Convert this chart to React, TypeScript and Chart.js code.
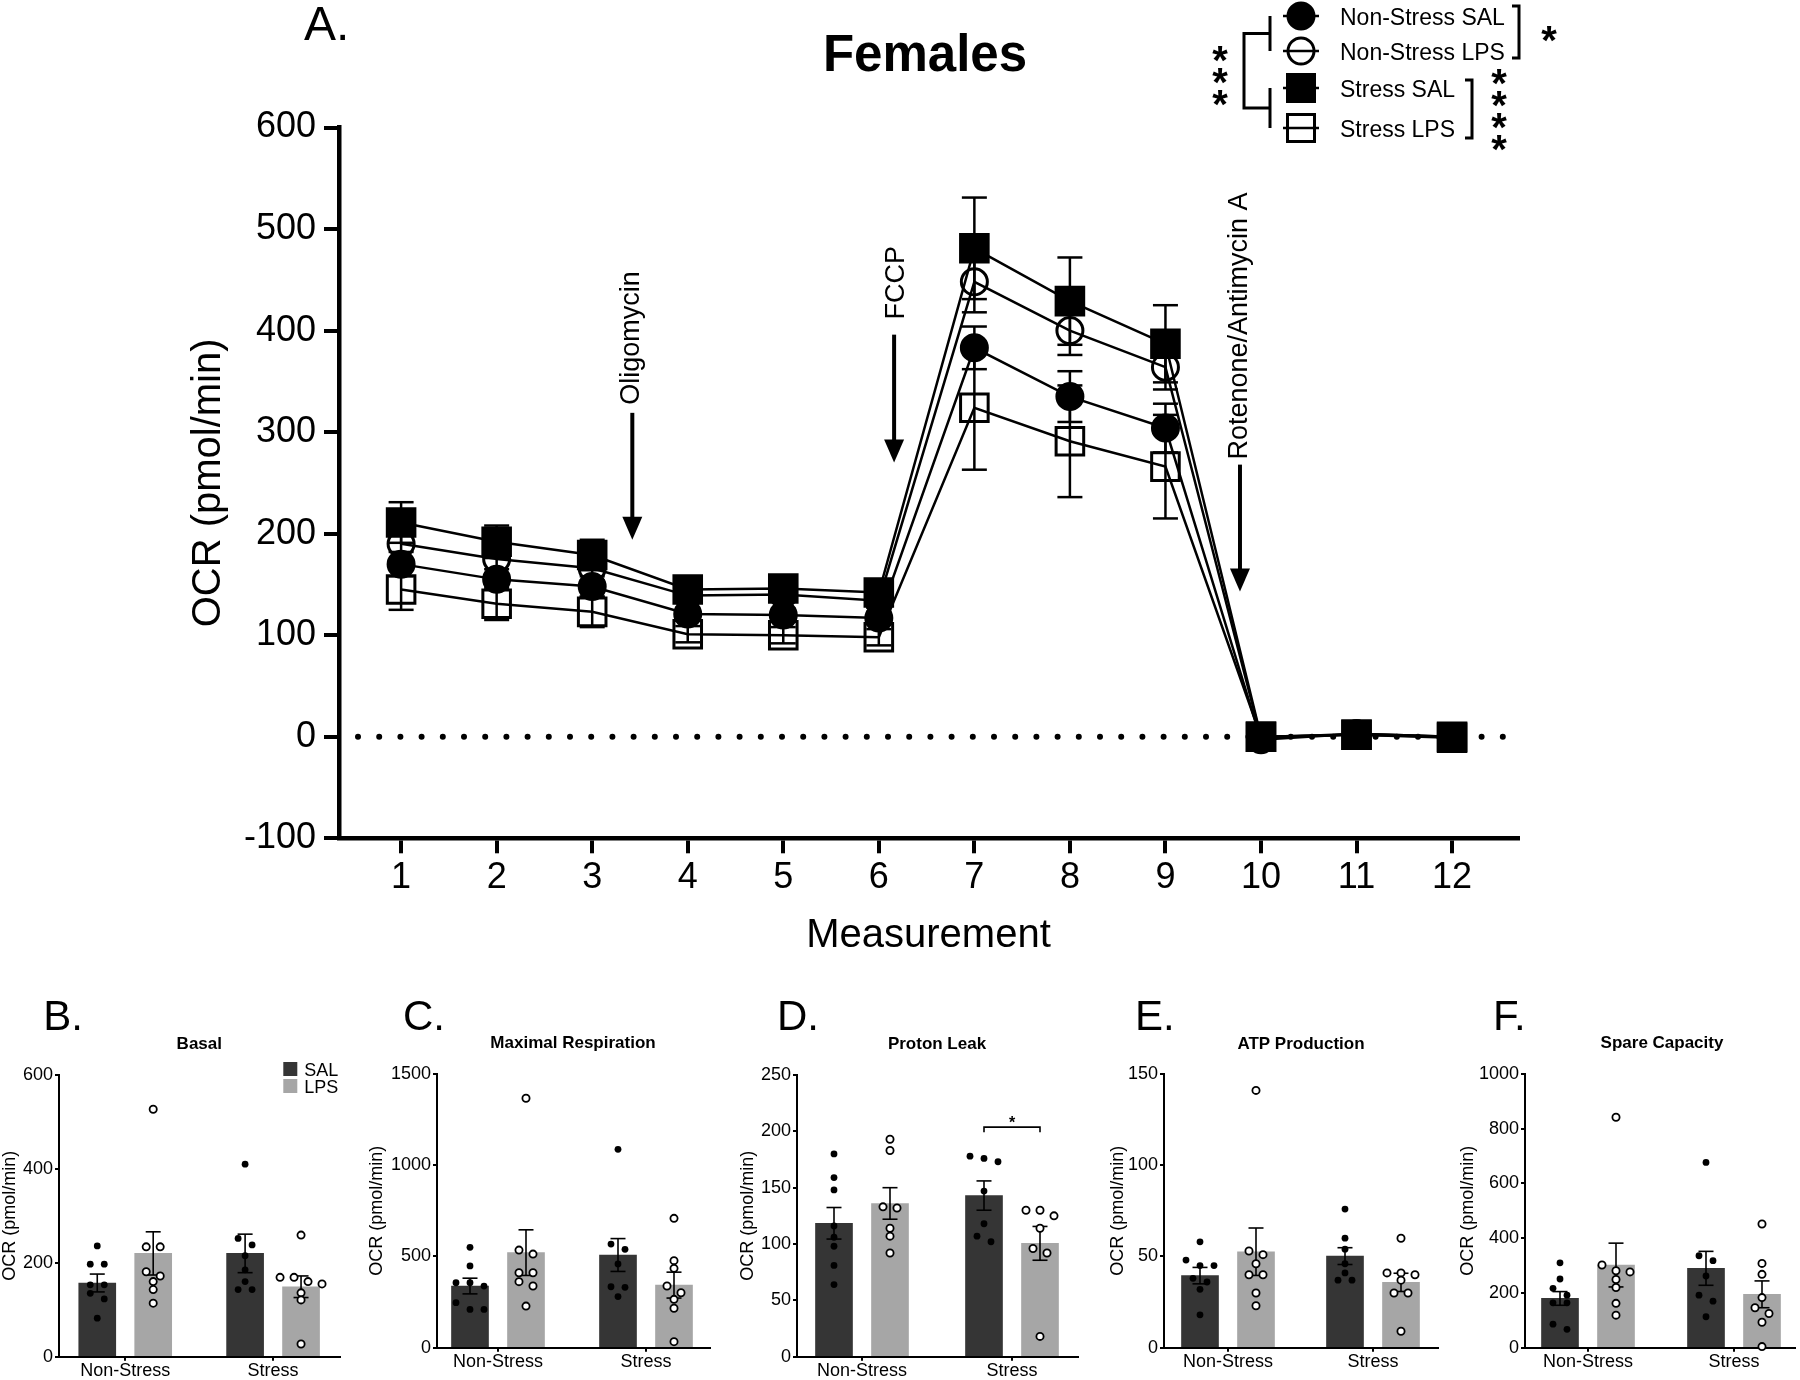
import React, { useEffect, useRef } from "react";
import { Chart, registerables } from "chart.js";

Chart.register(...registerables);

const FONT = "'Liberation Sans', Arial, Helvetica, sans-serif";
Chart.defaults.font.family = FONT;
Chart.defaults.color = "#000";

// ---------------- Panel A data ----------------
const measurements = [1, 2, 3, 4, 5, 6, 7, 8, 9, 10, 11, 12];
const nonStressSal = [170, 155, 148, 121, 120, 117, 383, 335, 304, -3, 3, 0];
const nonStressSalSem = [12, 10, 10, 6, 6, 6, 21, 25, 24, 2, 2, 2];
const nonStressLps = [190, 175, 166, 139, 140, 134, 448, 400, 364, -1, 3, 0];
const nonStressLpsSem = [15, 14, 12, 7, 7, 7, 30, 24, 22, 2, 2, 2];
const stressSal = [211, 192, 179, 145, 146, 142, 481, 429, 387, 0, 2, 0];
const stressSalSem = [20, 16, 15, 8, 8, 8, 50, 43, 38, 2, 2, 2];
const stressLps = [145, 131, 123, 101, 100, 98, 324, 291, 266, 0, 2, -1];
const stressLpsSem = [20, 16, 15, 8, 8, 8, 61, 55, 51, 2, 2, 2];
const seriesLabels = ["Non-Stress SAL", "Non-Stress LPS", "Stress SAL", "Stress LPS"];

const injectionLabels = ["Oligomycin", "FCCP", "Rotenone/Antimycin A"];
const injectionX = [3.42, 6.16, 9.78];
const injectionTextStart = [327, 411, 273];
const injectionArrowFrom = [319, 396, 268];
const injectionArrowTo = [194, 270, 143];

// ---------------- Panels B-F data ----------------
const groupLabels = ["Non-Stress", "Stress"];
const treatmentLabels = ["SAL", "LPS"];

const basalNsSal = [236, 197, 197, 153, 153, 135, 123, 82];
const basalNsLps = [527, 234, 234, 181, 172, 160, 143, 114];
const basalSSal = [410, 252, 238, 215, 185, 160, 143, 143];
const basalSLps = [259, 169, 169, 160, 155, 136, 121, 27];
const basalMeans = [157, 220, 220, 149];
const basalSem = [19, 46, 41, 23];

const maxNsSal = [550, 448, 356, 356, 338, 247, 210, 210];
const maxNsLps = [1367, 535, 513, 411, 411, 362, 338, 228];
const maxSSal = [1087, 568, 539, 459, 334, 331, 280];
const maxSLps = [709, 477, 435, 338, 301, 265, 216, 33];
const maxMeans = [338, 521, 508, 343];
const maxSem = [43, 125, 90, 71];

const leakNsSal = [180, 159, 148, 116, 106, 98, 81, 64];
const leakNsLps = [193, 183, 133, 132, 114, 107, 92];
const leakSSal = [173, 178, 176, 147, 118, 107, 102];
const leakSLps = [130, 125, 130, 114, 92, 96, 18];
const leakMeans = [118.4, 136, 143, 100.6];
const leakSem = [14, 14, 13, 15];

const atpNsSal = [58, 48, 45, 45, 38, 36, 32, 18];
const atpNsLps = [141, 53, 51, 46, 40, 40, 30, 23];
const atpSSal = [76, 60, 54, 46, 41, 37, 37];
const atpSLps = [60, 41, 41, 40, 37, 30, 30, 9];
const atpMeans = [39.5, 52.6, 50.2, 35.8];
const atpSem = [4.5, 13, 4.6, 5];

const spareNsSal = [310, 251, 217, 192, 164, 164, 86, 67];
const spareNsLps = [842, 302, 281, 277, 249, 220, 162, 119];
const spareSSal = [677, 336, 318, 262, 192, 170, 113];
const spareSLps = [452, 308, 268, 183, 146, 125, 93, 4];
const spareMeans = [180, 302, 290, 195];
const spareSem = [25, 80, 62, 49];

const panelLetters = ["B.", "C.", "D.", "E.", "F."];
const panelTitles = ["Basal", "Maximal Respiration", "Proton Leak", "ATP Production", "Spare Capacity"];
const panelYMax = [600, 1500, 250, 150, 1000];
const panelYStep = [200, 500, 50, 50, 200];
const panelPoints = [
  [basalNsSal, basalNsLps, basalSSal, basalSLps],
  [maxNsSal, maxNsLps, maxSSal, maxSLps],
  [leakNsSal, leakNsLps, leakSSal, leakSLps],
  [atpNsSal, atpNsLps, atpSSal, atpSLps],
  [spareNsSal, spareNsLps, spareSSal, spareSLps],
];
const panelMeans = [basalMeans, maxMeans, leakMeans, atpMeans, spareMeans];
const panelSems = [basalSem, maxSem, leakSem, atpSem, spareSem];

// layout (pixels on the page)
const panelGeom = [
  { left: 58.7, right: 340, c0: 125, c1: 273, top: 1075, bottom: 1356.7, letterX: 43, titleX: 199, yTitleOff: 48.7 },
  { left: 437, right: 710, c0: 498, c1: 646, top: 1074, bottom: 1347.7, letterX: 403, titleX: 573, yTitleOff: 60 },
  { left: 797, right: 1078, c0: 862, c1: 1012, top: 1075, bottom: 1356.7, letterX: 777, titleX: 937, yTitleOff: 49 },
  { left: 1164, right: 1438, c0: 1228, c1: 1373, top: 1074, bottom: 1347.7, letterX: 1135, titleX: 1301, yTitleOff: 46 },
  { left: 1525, right: 1795, c0: 1588, c1: 1734, top: 1074, bottom: 1347.7, letterX: 1493, titleX: 1662, yTitleOff: 57 },
];

// ---------------- helpers ----------------
function textAt(ctx: CanvasRenderingContext2D, text: string, x: number, cy: number, font: string, align: CanvasTextAlign = "left") {
  ctx.save();
  ctx.font = font;
  ctx.textAlign = align;
  ctx.textBaseline = "alphabetic";
  ctx.fillStyle = "#000";
  const m = ctx.measureText(text);
  const base = cy + (m.actualBoundingBoxAscent - m.actualBoundingBoxDescent) / 2;
  ctx.fillText(text, x, base);
  ctx.restore();
}

function line(ctx: CanvasRenderingContext2D, pts: number[][], w: number) {
  ctx.save();
  ctx.strokeStyle = "#000";
  ctx.lineWidth = w;
  ctx.lineCap = "butt";
  ctx.lineJoin = "miter";
  ctx.beginPath();
  pts.forEach((p, i) => (i === 0 ? ctx.moveTo(p[0], p[1]) : ctx.lineTo(p[0], p[1])));
  ctx.stroke();
  ctx.restore();
}

// ---------------- Panel A ----------------
const MAIN_W = 1800;
const MAIN_H = 960;
const A_LEFT = 339;
const A_RIGHT = 1518;
const A_TOP = 127.5;
const A_BOTTOM = 838.3;

function MainChart() {
  const ref = useRef<HTMLCanvasElement>(null);
  useEffect(() => {
    const canvas = ref.current!;
    const values = [nonStressSal, nonStressLps, stressSal, stressLps];
    const sems = [nonStressSalSem, nonStressLpsSem, stressSalSem, stressLpsSem];
    const shapes = ["circle", "circle", "rect", "rect"];
    const filled = [true, false, true, false];
    const orders = [2, 1, 0, 3];

    const datasets = values.map((vals, i) => ({
      type: "line" as const,
      label: seriesLabels[i],
      data: measurements.map((m, j) => ({ x: m, y: vals[j] })),
      sem: sems[i],
      borderColor: "#000",
      borderWidth: 2.5,
      tension: 0,
      fill: false,
      pointStyle: shapes[i],
      pointRadius: shapes[i] === "rect" ? 19.5 : 13,
      pointBorderWidth: 3,
      pointBorderColor: "#000",
      pointBackgroundColor: filled[i] ? "#000" : "rgba(0,0,0,0)",
      order: orders[i],
      clip: false as any,
    }));

    const backPlugin = {
      id: "back",
      beforeDatasetsDraw(chart: any) {
        const ctx: CanvasRenderingContext2D = chart.ctx;
        const xs = chart.scales.x;
        const ys = chart.scales.y;
        const y0 = ys.getPixelForValue(0);
        // dotted zero line
        ctx.save();
        ctx.strokeStyle = "#000";
        ctx.lineWidth = 6;
        ctx.lineCap = "round";
        ctx.setLineDash([0, 21.2]);
        ctx.beginPath();
        ctx.moveTo(chart.chartArea.left + 19, y0);
        ctx.lineTo(chart.chartArea.right, y0);
        ctx.stroke();
        ctx.restore();
        // error bars
        chart.data.datasets.forEach((ds: any) => {
          ds.data.forEach((pt: any, j: number) => {
            const s = ds.sem[j];
            const x = xs.getPixelForValue(pt.x);
            const yt = ys.getPixelForValue(pt.y + s);
            const yb = ys.getPixelForValue(pt.y - s);
            line(ctx, [[x, yt], [x, yb]], 2.5);
            line(ctx, [[x - 12.5, yt], [x + 12.5, yt]], 2.5);
            line(ctx, [[x - 12.5, yb], [x + 12.5, yb]], 2.5);
          });
        });
      },
    };

    const frontPlugin = {
      id: "front",
      afterDraw(chart: any) {
        const ctx: CanvasRenderingContext2D = chart.ctx;
        const xs = chart.scales.x;
        const ys = chart.scales.y;
        // Panel letter and title
        textAt(ctx, "A.", 304, 23, `48px ${FONT}`, "left");
        textAt(ctx, "Females", 925, 52, `bold 51px ${FONT}`, "center");

        // injection arrows + labels
        injectionLabels.forEach((lab, i) => {
          const x = xs.getPixelForValue(injectionX[i]);
          const yStart = ys.getPixelForValue(injectionTextStart[i]);
          const yFrom = ys.getPixelForValue(injectionArrowFrom[i]);
          const yTip = ys.getPixelForValue(injectionArrowTo[i]);
          const headL = 23;
          const headW = 10;
          line(ctx, [[x, yFrom], [x, yTip - headL + 2]], 4);
          ctx.save();
          ctx.fillStyle = "#000";
          ctx.beginPath();
          ctx.moveTo(x - headW, yTip - headL);
          ctx.lineTo(x + headW, yTip - headL);
          ctx.lineTo(x, yTip);
          ctx.closePath();
          ctx.fill();
          ctx.restore();
          ctx.save();
          ctx.translate(x, yStart);
          ctx.rotate(-Math.PI / 2);
          ctx.font = `27px ${FONT}`;
          ctx.textAlign = "left";
          ctx.textBaseline = "alphabetic";
          ctx.fillStyle = "#000";
          const m = ctx.measureText(lab);
          ctx.fillText(lab, 0, (m.actualBoundingBoxAscent - m.actualBoundingBoxDescent) / 2);
          ctx.restore();
        });

        // legend
        const ly = [16, 51, 88, 128];
        const mx = 1301;
        const shapes = ["circle", "circle", "rect", "rect"];
        const filled = [true, false, true, false];
        ly.forEach((y, i) => {
          line(ctx, [[1283, y], [1319, y]], 2.5);
          ctx.save();
          ctx.strokeStyle = "#000";
          ctx.fillStyle = "#000";
          ctx.lineWidth = 3;
          ctx.beginPath();
          if (shapes[i] === "circle") ctx.arc(mx, y, 13, 0, Math.PI * 2);
          else ctx.rect(mx - 13.5, y - 13.5, 27, 27);
          if (filled[i]) ctx.fill();
          ctx.stroke();
          ctx.restore();
          textAt(ctx, seriesLabels[i], 1340, y, `23px ${FONT}`, "left");
        });
        // left brackets
        line(ctx, [[1270, ly[0]], [1270, ly[1]]], 3);
        line(ctx, [[1270, ly[2]], [1270, ly[3]]], 3);
        const m1 = (ly[0] + ly[1]) / 2;
        const m2 = (ly[2] + ly[3]) / 2;
        line(ctx, [[1270, m1], [1244, m1], [1244, m2], [1270, m2]], 3);
        ["*", "*", "*"].forEach((s, i) => textAt(ctx, s, 1220, 54 + i * 22, `bold 40px ${FONT}`, "center"));
        // right brackets
        line(ctx, [[1512, 6], [1519, 6], [1519, 58], [1512, 58]], 3);
        textAt(ctx, "*", 1549, 34, `bold 40px ${FONT}`, "center");
        line(ctx, [[1465, 80], [1472, 80], [1472, 138], [1465, 138]], 3);
        ["*", "*", "*", "*"].forEach((s, i) => textAt(ctx, s, 1499, 77 + i * 22, `bold 40px ${FONT}`, "center"));
      },
    };

    const gridOpts = { drawOnChartArea: false, drawTicks: true, tickLength: 15, lineWidth: 4, color: "#000" };
    const borderOpts = { display: true, width: 4.5, color: "#000" };

    const chart = new Chart(canvas, {
      type: "line",
      data: { datasets: datasets as any },
      options: {
        responsive: false,
        animation: false,
        devicePixelRatio: 1,
        layout: { padding: { left: 0, top: A_TOP, right: MAIN_W - A_RIGHT, bottom: 0 } },
        plugins: { legend: { display: false }, tooltip: { enabled: false }, title: { display: false } },
        scales: {
          x: {
            type: "linear",
            min: 0.35,
            max: 12.69,
            afterBuildTicks: (s: any) => {
              s.ticks = measurements.map((v) => ({ value: v }));
            },
            afterFit: (s: any) => {
              s.height = MAIN_H - A_BOTTOM;
            },
            grid: gridOpts,
            border: borderOpts,
            ticks: { font: { size: 36 }, color: "#000", padding: 3, maxRotation: 0, autoSkip: false },
            title: { display: true, text: "Measurement", font: { size: 40 }, color: "#000", padding: { top: 0, bottom: 0 } },
          },
          y: {
            type: "linear",
            min: -100,
            max: 600,
            afterFit: (s: any) => {
              s.width = A_LEFT;
            },
            grid: gridOpts,
            border: borderOpts,
            ticks: { stepSize: 100, font: { size: 36 }, color: "#000", padding: 8 },
            title: { display: true, text: "OCR (pmol/min)", font: { size: 40 }, color: "#000", padding: { top: 185, bottom: 0 } },
          },
        },
      } as any,
      plugins: [backPlugin, frontPlugin],
    });
    return () => chart.destroy();
  }, []);
  return (
    <canvas
      ref={ref}
      width={MAIN_W}
      height={MAIN_H}
      style={{ position: "absolute", left: 0, top: 0, width: MAIN_W, height: MAIN_H }}
    />
  );
}

// ---------------- Panels B-F ----------------
const PANEL_TOP = 980;
const PANEL_H = 400;
const YW = 72;
const PADR = 8;

function swarm(vals: number[], pxPerY: number, step: number): number[] {
  // group near-equal values into rows, spread rows symmetrically (pixel offsets)
  const idx = vals.map((v, i) => i).sort((a, b) => vals[b] - vals[a]);
  const offs = new Array(vals.length).fill(0);
  let row: number[] = [];
  const flush = () => {
    row.forEach((k, r) => (offs[k] = (r - (row.length - 1) / 2) * step));
    row = [];
  };
  idx.forEach((k) => {
    if (row.length && (vals[row[0]] - vals[k]) * pxPerY >= 7) flush();
    row.push(k);
  });
  flush();
  return offs;
}

function BarPanel({ idx }: { idx: number }) {
  const ref = useRef<HTMLCanvasElement>(null);
  const g = panelGeom[idx];
  const cLeft = g.left - YW;
  const cWidth = YW + (g.right - g.left) + PADR;
  useEffect(() => {
    const canvas = ref.current!;
    const ppu = g.c1 - g.c0;
    const xmin = -(g.c0 - g.left) / ppu;
    const xmax = 1 + (g.right - g.c1) / ppu;
    const yMax = panelYMax[idx];
    const pxPerY = (g.bottom - g.top) / yMax;
    const off = 28 / ppu;
    const means = panelMeans[idx];
    const sems = panelSems[idx];
    const pts = panelPoints[idx];
    // order: NS SAL, NS LPS, S SAL, S LPS
    const centers = [0 - off, 0 + off, 1 - off, 1 + off];
    const isSal = [true, false, true, false];

    const barSal = {
      type: "bar" as const,
      label: treatmentLabels[0],
      data: [
        { x: centers[0], y: means[0] },
        { x: centers[2], y: means[2] },
      ],
      sem: [sems[0], sems[2]],
      backgroundColor: "#353535",
      borderWidth: 0,
      barThickness: 37,
      grouped: false,
      order: 5,
    };
    const barLps = {
      type: "bar" as const,
      label: treatmentLabels[1],
      data: [
        { x: centers[1], y: means[1] },
        { x: centers[3], y: means[3] },
      ],
      sem: [sems[1], sems[3]],
      backgroundColor: "#a6a6a6",
      borderWidth: 0,
      barThickness: 37,
      grouped: false,
      order: 4,
    };
    const dots = pts.map((vals, k) => {
      const offs = swarm(vals, pxPerY, 14);
      return {
        type: "scatter" as const,
        label: seriesLabels[k],
        data: vals.map((v, j) => ({ x: centers[k] + offs[j] / ppu, y: v })),
        pointRadius: isSal[k] ? 3.4 : 3.6,
        pointBorderWidth: isSal[k] ? 0 : 1.8,
        pointBackgroundColor: isSal[k] ? "#000" : "#fff",
        pointBorderColor: "#000",
        order: 0,
        clip: false as any,
      };
    });

    const errPlugin = {
      id: "err",
      afterDatasetDraw(chart: any, args: any) {
        const ds = chart.data.datasets[args.index];
        if (ds.type !== "bar") return;
        const ctx: CanvasRenderingContext2D = chart.ctx;
        const ys = chart.scales.y;
        args.meta.data.forEach((el: any, j: number) => {
          const v = ds.data[j].y;
          const s = ds.sem[j];
          const x = el.x;
          const yt = ys.getPixelForValue(v + s);
          const yb = ys.getPixelForValue(v - s);
          line(ctx, [[x, yt], [x, yb]], 1.6);
          line(ctx, [[x - 7.5, yt], [x + 7.5, yt]], 1.6);
          line(ctx, [[x - 7.5, yb], [x + 7.5, yb]], 1.6);
        });
      },
    };

    const decoPlugin = {
      id: "deco",
      afterDraw(chart: any) {
        const ctx: CanvasRenderingContext2D = chart.ctx;
        const ox = cLeft;
        const oy = PANEL_TOP;
        textAt(ctx, panelLetters[idx], g.letterX - ox, 1015 - oy, `42px ${FONT}`, "left");
        textAt(ctx, panelTitles[idx], g.titleX - ox, 1043 - oy, `bold 17px ${FONT}`, "center");
        if (idx === 0) {
          ctx.save();
          ctx.fillStyle = "#353535";
          ctx.fillRect(283 - ox, 1062 - oy, 14, 14);
          ctx.fillStyle = "#a6a6a6";
          ctx.fillRect(283 - ox, 1079 - oy, 14, 14);
          ctx.restore();
          textAt(ctx, treatmentLabels[0], 304 - ox, 1069 - oy, `18px ${FONT}`, "left");
          textAt(ctx, treatmentLabels[1], 304 - ox, 1086 - oy, `18px ${FONT}`, "left");
        }
        if (idx === 2) {
          const xs = chart.scales.x;
          const ys = chart.scales.y;
          const x1 = xs.getPixelForValue(centers[2]);
          const x2 = xs.getPixelForValue(centers[3]);
          const yb = ys.getPixelForValue(203.7);
          line(ctx, [[x1, yb + 5], [x1, yb], [x2, yb], [x2, yb + 5]], 1.6);
          textAt(ctx, "*", (x1 + x2) / 2, yb - 8, `bold 16px ${FONT}`, "center");
        }
      },
    };

    const gridOpts = { drawOnChartArea: false, drawTicks: true, tickLength: 4, lineWidth: 2, color: "#000" };
    const borderOpts = { display: true, width: 2, color: "#000" };

    const chart = new Chart(canvas, {
      type: "bar",
      data: { datasets: [barSal, barLps, ...dots] as any },
      options: {
        responsive: false,
        animation: false,
        devicePixelRatio: 1,
        layout: { padding: { left: 0, top: g.top - PANEL_TOP, right: PADR, bottom: 0 } },
        plugins: { legend: { display: false }, tooltip: { enabled: false }, title: { display: false } },
        scales: {
          x: {
            type: "linear",
            min: xmin,
            max: xmax,
            offset: false,
            afterBuildTicks: (s: any) => {
              s.ticks = [{ value: 0 }, { value: 1 }];
            },
            afterFit: (s: any) => {
              s.height = PANEL_TOP + PANEL_H - g.bottom;
            },
            grid: { ...gridOpts, offset: false },
            border: borderOpts,
            ticks: {
              font: { size: 18 },
              color: "#000",
              padding: 0,
              maxRotation: 0,
              autoSkip: false,
              callback: (_v: any, i: number) => groupLabels[i],
            },
          },
          y: {
            type: "linear",
            min: 0,
            max: yMax,
            afterFit: (s: any) => {
              s.width = YW;
            },
            grid: gridOpts,
            border: borderOpts,
            ticks: { stepSize: panelYStep[idx], font: { size: 18 }, color: "#000", padding: 2, callback: (v: any) => String(v) },
            title: {
              display: true,
              text: "OCR (pmol/min)",
              font: { size: 18 },
              color: "#000",
              padding: { top: Math.max(0, YW - g.yTitleOff - 10.8), bottom: 0 },
            },
          },
        },
      } as any,
      plugins: [errPlugin, decoPlugin],
    });
    return () => chart.destroy();
  }, []);
  return (
    <canvas
      ref={ref}
      width={cWidth}
      height={PANEL_H}
      style={{ position: "absolute", left: cLeft, top: PANEL_TOP, width: cWidth, height: PANEL_H }}
    />
  );
}

export default function App() {
  return (
    <div
      style={{
        position: "absolute",
        left: 0,
        top: 0,
        width: 1800,
        height: 1380,
        overflow: "hidden",
        background: "#fff",
      }}
    >
      <MainChart />
      {panelGeom.map((_, i) => (
        <BarPanel key={i} idx={i} />
      ))}
    </div>
  );
}
